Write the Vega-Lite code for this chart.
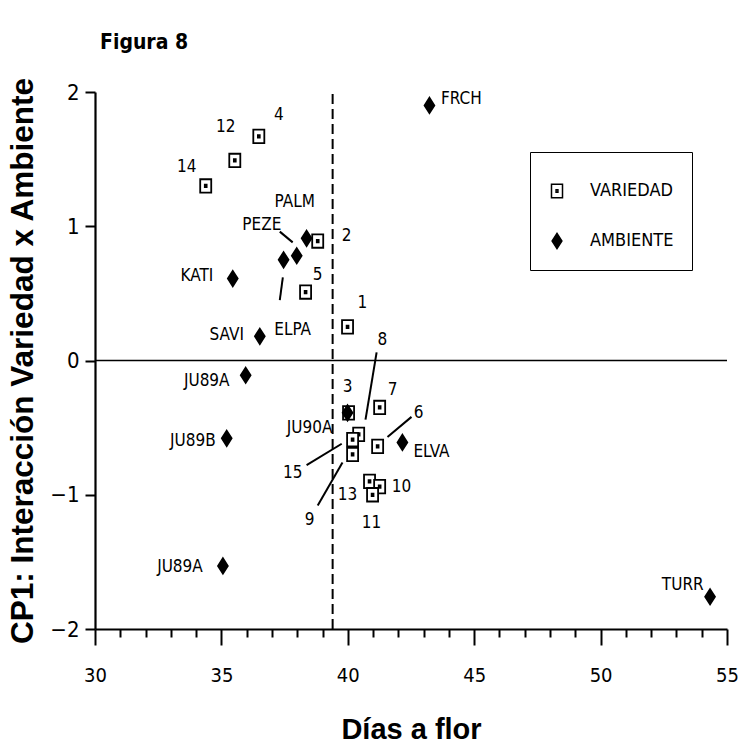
{
  "$schema": "https://vega.github.io/schema/vega-lite/v6.json",
  "width": 632,
  "height": 537,
  "autosize": {"type": "none"},
  "padding": {"left": 95, "top": 92, "right": 11, "bottom": 123},
  "background": "white",
  "title": {
    "text": "Figura 8",
    "anchor": "start",
    "frame": "group",
    "dx": 5,
    "offset": 24,
    "font": "DejaVu Sans Condensed, sans-serif",
    "fontSize": 21,
    "fontWeight": "bold",
    "color": "black"
  },
  "config": {"view": {"stroke": null}},
  "datasets": {
    "pts": [
      {"name": "4", "tipo": "VARIEDAD", "x": 36.48, "y": 1.67},
      {"name": "12", "tipo": "VARIEDAD", "x": 35.53, "y": 1.49},
      {"name": "14", "tipo": "VARIEDAD", "x": 34.38, "y": 1.30},
      {"name": "2", "tipo": "VARIEDAD", "x": 38.81, "y": 0.89},
      {"name": "5", "tipo": "VARIEDAD", "x": 38.33, "y": 0.51},
      {"name": "1", "tipo": "VARIEDAD", "x": 39.99, "y": 0.25},
      {"name": "3", "tipo": "VARIEDAD", "x": 40.03, "y": -0.39},
      {"name": "7", "tipo": "VARIEDAD", "x": 41.26, "y": -0.35},
      {"name": "8", "tipo": "VARIEDAD", "x": 40.43, "y": -0.55},
      {"name": "15", "tipo": "VARIEDAD", "x": 40.19, "y": -0.59},
      {"name": "9", "tipo": "VARIEDAD", "x": 40.19, "y": -0.70},
      {"name": "6", "tipo": "VARIEDAD", "x": 41.18, "y": -0.64},
      {"name": "13", "tipo": "VARIEDAD", "x": 40.86, "y": -0.90},
      {"name": "10", "tipo": "VARIEDAD", "x": 41.26, "y": -0.94},
      {"name": "11", "tipo": "VARIEDAD", "x": 40.98, "y": -1.00},
      {"name": "FRCH", "tipo": "AMBIENTE", "x": 43.23, "y": 1.90},
      {"name": "PALM", "tipo": "AMBIENTE", "x": 38.37, "y": 0.91},
      {"name": "PEZE", "tipo": "AMBIENTE", "x": 37.98, "y": 0.78},
      {"name": "ELPA", "tipo": "AMBIENTE", "x": 37.46, "y": 0.75},
      {"name": "KATI", "tipo": "AMBIENTE", "x": 35.45, "y": 0.61},
      {"name": "SAVI", "tipo": "AMBIENTE", "x": 36.52, "y": 0.18},
      {"name": "JU89A", "tipo": "AMBIENTE", "x": 35.96, "y": -0.11},
      {"name": "JU90A", "tipo": "AMBIENTE", "x": 39.99, "y": -0.39},
      {"name": "ELVA", "tipo": "AMBIENTE", "x": 42.16, "y": -0.61},
      {"name": "JU89B", "tipo": "AMBIENTE", "x": 35.21, "y": -0.58},
      {"name": "JU89A", "tipo": "AMBIENTE", "x": 35.06, "y": -1.53},
      {"name": "TURR", "tipo": "AMBIENTE", "x": 54.33, "y": -1.76}
    ],
    "labels": [
      {"t": "4", "x": 37.27, "y": 1.83},
      {"t": "12", "x": 35.17, "y": 1.74},
      {"t": "14", "x": 33.63, "y": 1.44},
      {"t": "PALM", "x": 37.90, "y": 1.18},
      {"t": "PEZE", "x": 36.60, "y": 1.01},
      {"t": "2", "x": 39.95, "y": 0.93},
      {"t": "KATI", "x": 34.03, "y": 0.63},
      {"t": "5", "x": 38.81, "y": 0.64},
      {"t": "SAVI", "x": 35.21, "y": 0.19},
      {"t": "ELPA", "x": 37.82, "y": 0.23},
      {"t": "1", "x": 40.58, "y": 0.43},
      {"t": "JU89A", "x": 34.42, "y": -0.15},
      {"t": "3", "x": 39.99, "y": -0.20},
      {"t": "8", "x": 41.37, "y": 0.15},
      {"t": "7", "x": 41.77, "y": -0.22},
      {"t": "6", "x": 42.80, "y": -0.39},
      {"t": "JU90A", "x": 38.49, "y": -0.50},
      {"t": "ELVA", "x": 43.31, "y": -0.68},
      {"t": "15", "x": 37.82, "y": -0.84},
      {"t": "13", "x": 39.99, "y": -1.00},
      {"t": "10", "x": 42.12, "y": -0.94},
      {"t": "9", "x": 38.49, "y": -1.19},
      {"t": "11", "x": 40.94, "y": -1.21},
      {"t": "FRCH", "x": 44.49, "y": 1.95},
      {"t": "JU89B", "x": 33.87, "y": -0.60},
      {"t": "JU89A", "x": 33.36, "y": -1.54},
      {"t": "TURR", "x": 53.25, "y": -1.67}
    ],
    "leaders": [
      {"x": 37.31, "y": 0.96, "x2": 37.82, "y2": 0.88},
      {"x": 37.43, "y": 0.62, "x2": 37.31, "y2": 0.45},
      {"x": 41.14, "y": 0.06, "x2": 40.70, "y2": -0.44},
      {"x": 42.52, "y": -0.42, "x2": 41.57, "y2": -0.57},
      {"x": 38.37, "y": -0.78, "x2": 39.76, "y2": -0.62},
      {"x": 38.81, "y": -1.08, "x2": 39.79, "y2": -0.76}
    ],
    "zeroline": [{"x": 30, "x2": 55, "y": 0}],
    "dashline": [{"x": 39.4, "y": -2, "y2": 2}]
  },
  "encoding": {
    "x": {
      "field": "x", "type": "quantitative", "title": "Días a flor",
      "scale": {"domain": [30, 55], "nice": false, "zero": false},
      "axis": {
        "values": [30,31,32,33,34,35,36,37,38,39,40,41,42,43,44,45,46,47,48,49,50,51,52,53,54,55],
        "format": "d",
        "labelExpr": "datum.value % 5 === 0 ? datum.label : ''",
        "labelOverlap": false,
        "tickSize": {"condition": {"test": "datum.value % 5 === 0", "value": 16}, "value": 8},
        "labelPadding": 20,
        "labelFont": "DejaVu Sans Condensed, sans-serif",
        "labelFontSize": 20,
        "labelColor": "black",
        "labelFlush": false,
        "domainColor": "black",
        "domainWidth": 2.2,
        "tickColor": "black",
        "tickWidth": 2,
        "grid": false,
        "titleFont": "Liberation Sans, Arial, sans-serif",
        "titleFontWeight": "bold",
        "titleFontSize": 29,
        "titleColor": "black",
        "titlePadding": 30
      }
    },
    "y": {
      "field": "y", "type": "quantitative", "title": "CP1: Interacción Variedad x Ambiente",
      "scale": {"domain": [-2, 2], "nice": false, "zero": false},
      "axis": {
        "values": [-2, -1.5, -1, -0.5, 0, 0.5, 1, 1.5, 2],
        "format": "d",
        "labelExpr": "datum.value % 1 === 0 ? datum.label : ''",
        "labelOverlap": false,
        "tickSize": {"condition": {"test": "datum.value % 1 === 0", "value": 10}, "value": 5},
        "labelPadding": 6,
        "labelFont": "DejaVu Sans Condensed, sans-serif",
        "labelFontSize": 22,
        "labelColor": "black",
        "labelFlush": false,
        "domainColor": "black",
        "domainWidth": 2.2,
        "tickColor": "black",
        "tickWidth": 2,
        "grid": false,
        "titleFont": "Liberation Sans, Arial, sans-serif",
        "titleFontWeight": "bold",
        "titleFontSize": 31.5,
        "titleColor": "black",
        "titlePadding": 10
      }
    }
  },
  "layer": [
    {
      "data": {"name": "zeroline"},
      "mark": {"type": "rule", "color": "black", "strokeWidth": 1.6},
      "encoding": {"x2": {"field": "x2"}}
    },
    {
      "data": {"name": "dashline"},
      "mark": {"type": "rule", "color": "black", "strokeWidth": 2, "strokeDash": [10, 5]},
      "encoding": {"y2": {"field": "y2"}}
    },
    {
      "data": {"name": "leaders"},
      "mark": {"type": "rule", "color": "black", "strokeWidth": 2},
      "encoding": {"x2": {"field": "x2"}, "y2": {"field": "y2"}}
    },
    {
      "data": {"name": "pts"},
      "mark": {"type": "point", "filled": true, "stroke": "black", "strokeWidth": 1.8, "opacity": 1, "size": 150},
      "encoding": {
        "shape": {
          "field": "tipo", "type": "nominal",
          "scale": {
            "domain": ["VARIEDAD", "AMBIENTE"],
            "range": ["M-0.9,-1.1H0.9V1.1H-0.9Z M-0.15,-0.2H0.15V0.2H-0.15Z", "M0,-1.25L0.8,0L0,1.25L-0.8,0Z"]
          },
          "legend": {
            "title": " ", "titleFontSize": 8, "titlePadding": 4,
            "orient": "none", "legendX": 435, "legendY": 60,
            "strokeColor": "black", "padding": 18,
            "labelFont": "DejaVu Sans Condensed, sans-serif",
            "labelFontSize": 18, "labelColor": "black", "labelOffset": 24, "rowPadding": 29,
            "symbolSize": 150,
            "encode": {
              "legend": {"update": {"strokeWidth": {"value": 2}}},
              "symbols": {"update": {"stroke": {"value": "black"}, "strokeWidth": {"value": 1.8}}}
            }
          }
        },
        "fill": {
          "field": "tipo", "type": "nominal",
          "scale": {"domain": ["VARIEDAD", "AMBIENTE"], "range": ["white", "black"]},
          "legend": {
            "title": " ", "titleFontSize": 8, "titlePadding": 4,
            "orient": "none", "legendX": 435, "legendY": 60,
            "strokeColor": "black", "padding": 18,
            "labelFont": "DejaVu Sans Condensed, sans-serif",
            "labelFontSize": 18, "labelColor": "black", "labelOffset": 24, "rowPadding": 29,
            "symbolSize": 150,
            "encode": {
              "legend": {"update": {"strokeWidth": {"value": 2}}},
              "symbols": {"update": {"stroke": {"value": "black"}, "strokeWidth": {"value": 1.8}}}
            }
          }
        }
      }
    },
    {
      "data": {"name": "labels"},
      "mark": {"type": "text", "font": "DejaVu Sans Condensed, sans-serif", "fontSize": 17, "color": "black", "align": "center", "baseline": "middle"},
      "encoding": {"text": {"field": "t"}}
    }
  ]
}
